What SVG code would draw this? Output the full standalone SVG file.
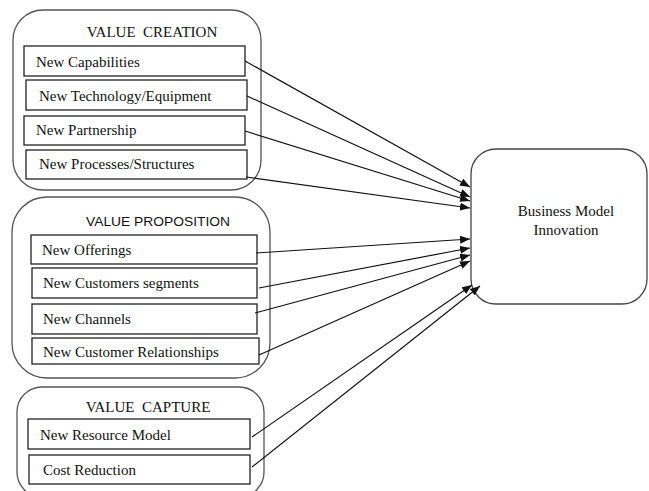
<svg xmlns="http://www.w3.org/2000/svg" width="649" height="491" viewBox="0 0 649 491">
  <defs>
    <marker id="arrow" markerWidth="10" markerHeight="8" refX="10" refY="4" orient="auto" markerUnits="userSpaceOnUse">
      <path d="M0,0 L10,4 L0,8 Z" fill="#111"/>
    </marker>
    <style>
      .group { fill: #fff; stroke: #555; stroke-width: 1.3; }
      .item { fill: #fff; stroke: #222; stroke-width: 1.3; }
      .label { font-family: "Liberation Serif", "Times New Roman", serif; font-size: 15px; fill: #111; }
      .title { font-family: "Liberation Serif", "Times New Roman", serif; font-size: 15px; fill: #111; white-space: pre; }
      .title-sans { font-family: "Liberation Sans", Arial, sans-serif; font-size: 13px; fill: #111; }
      .link { stroke: #111; stroke-width: 1.2; fill: none; marker-end: url(#arrow); }
    </style>
  </defs>
  <rect width="649" height="491" fill="#fff"/>

  <!-- Value creation -->
  <g id="value-creation">
    <rect class="group" x="13" y="10" width="248" height="180" rx="30"/>
    <text class="title" x="152" y="37" text-anchor="middle" xml:space="preserve">VALUE  CREATION</text>
  </g>
  <g id="new-capabilities">
    <rect class="item" x="24" y="46" width="221" height="30"/>
    <text class="label" x="36" y="67">New Capabilities</text>
  </g>
  <g id="new-technology">
    <rect class="item" x="26" y="80" width="221" height="30"/>
    <text class="label" x="39" y="101">New Technology/Equipment</text>
  </g>
  <g id="new-partnership">
    <rect class="item" x="24" y="116" width="221" height="29"/>
    <text class="label" x="36" y="135">New Partnership</text>
  </g>
  <g id="new-processes">
    <rect class="item" x="26" y="150" width="221" height="29"/>
    <text class="label" x="39" y="169">New Processes/Structures</text>
  </g>

  <!-- Value proposition -->
  <g id="value-proposition">
    <rect class="group" x="12" y="197" width="258" height="181" rx="35"/>
    <text class="title-sans" x="86" y="226" textLength="144" lengthAdjust="spacingAndGlyphs">VALUE PROPOSITION</text>
  </g>
  <g id="new-offerings">
    <rect class="item" x="31" y="235" width="226" height="29"/>
    <text class="label" x="42" y="255">New Offerings</text>
  </g>
  <g id="new-customer-segments">
    <rect class="item" x="32" y="268" width="225" height="30"/>
    <text class="label" x="43" y="288">New Customers segments</text>
  </g>
  <g id="new-channels">
    <rect class="item" x="32" y="304" width="225" height="30"/>
    <text class="label" x="43" y="324">New Channels</text>
  </g>
  <g id="new-customer-relationships">
    <rect class="item" x="32" y="338" width="227" height="26"/>
    <text class="label" x="43" y="357">New Customer Relationships</text>
  </g>

  <!-- Value capture -->
  <g id="value-capture">
    <rect class="group" x="17" y="387" width="247" height="110" rx="25"/>
    <text class="title" x="148" y="412" text-anchor="middle" xml:space="preserve">VALUE  CAPTURE</text>
  </g>
  <g id="new-resource-model">
    <rect class="item" x="28" y="419" width="222" height="30"/>
    <text class="label" x="40" y="440">New Resource Model</text>
  </g>
  <g id="cost-reduction">
    <rect class="item" x="29" y="455" width="221" height="29"/>
    <text class="label" x="43" y="475">Cost Reduction</text>
  </g>

  <!-- Target -->
  <g id="business-model-innovation">
    <rect x="471" y="149" width="176" height="155" rx="25" fill="#fff" stroke="#444" stroke-width="1.3"/>
    <text class="label" x="566" y="216" text-anchor="middle">Business Model</text>
    <text class="label" x="566" y="235" text-anchor="middle">Innovation</text>
  </g>

  <!-- Connectors -->
  <g id="connectors">
    <line class="link" x1="245" y1="61" x2="470" y2="187"/>
    <line class="link" x1="247" y1="96" x2="470" y2="197"/>
    <line class="link" x1="245" y1="131" x2="470" y2="201"/>
    <line class="link" x1="246" y1="177" x2="470" y2="208"/>
    <line class="link" x1="256" y1="253" x2="470" y2="239"/>
    <line class="link" x1="259" y1="288" x2="470" y2="248"/>
    <line class="link" x1="255" y1="313" x2="470" y2="255"/>
    <line class="link" x1="259" y1="355" x2="470" y2="261"/>
    <line class="link" x1="252" y1="437" x2="472" y2="285"/>
    <line class="link" x1="252" y1="467" x2="480" y2="286"/>
  </g>
</svg>
